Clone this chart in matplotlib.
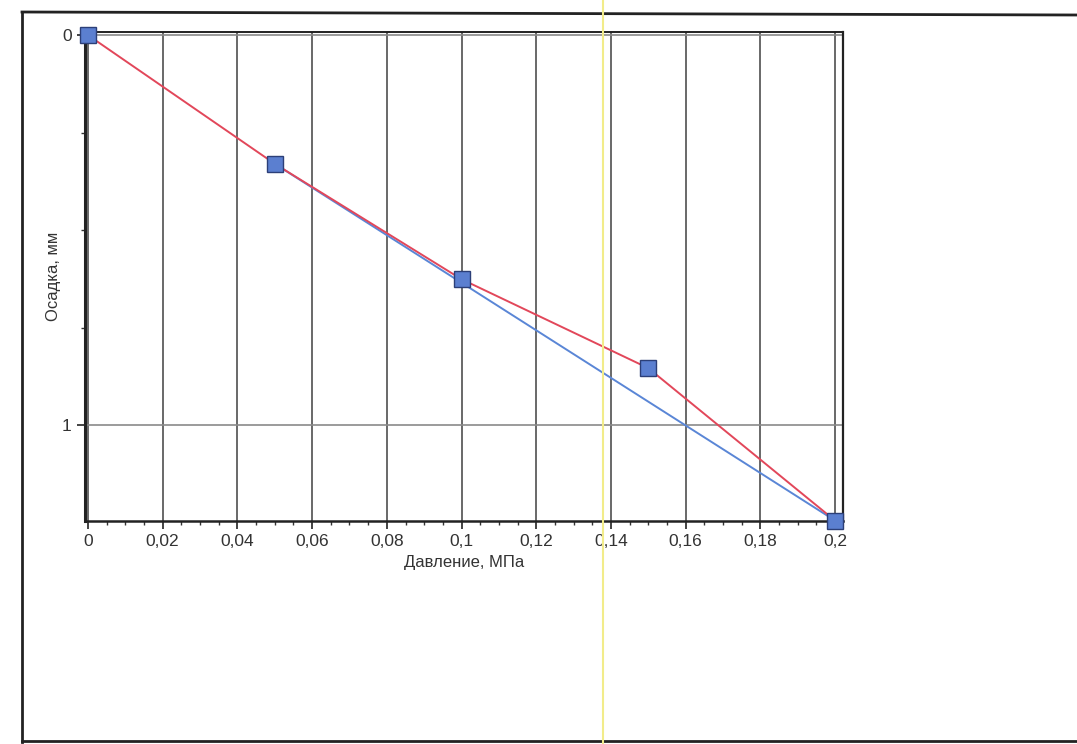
import matplotlib
matplotlib.use("Agg")
import matplotlib.pyplot as plt
from matplotlib.lines import Line2D
from matplotlib.ticker import MultipleLocator, FuncFormatter

plt.rcParams['font.family'] = ['Liberation Sans', 'DejaVu Sans']

# Нагрузка и осадка штампа
pressure = [0.0, 0.05, 0.10, 0.15, 0.20]
settlement = [0.0, 0.33, 0.626, 0.854, 1.245]

# Линейный участок (от 0,05 до 0,2 МПа)
lin_pressure = [0.05, 0.20]
lin_settlement = [0.33, 1.245]

fig = plt.figure(figsize=(10.77, 7.44), dpi=100)
fig.patch.set_facecolor('white')

ax = fig.add_axes([0.0789, 0.2997, 0.7038, 0.6573])
ax.set_xlim(-0.0008, 0.2021)
ax.set_ylim(1.246, -0.008)

# сетка
for xv in [i * 0.02 for i in range(11)]:
    ax.axvline(xv, color='#404040', lw=1.1, zorder=1)
for yv in [0, 1]:
    ax.axhline(yv, color='#8a8a8a', lw=1.2, zorder=1)

ax.plot(lin_pressure, lin_settlement, color='#5a86d6', lw=1.4, zorder=2)
ax.plot(pressure, settlement, color='#e2475a', lw=1.4, zorder=3,
        marker='s', markersize=11, markerfacecolor='#5b7fd0',
        markeredgecolor='#2c3f78', markeredgewidth=1.0, clip_on=False)

ax.xaxis.set_major_locator(MultipleLocator(0.02))
ax.xaxis.set_minor_locator(MultipleLocator(0.005))
ax.yaxis.set_major_locator(MultipleLocator(1))
ax.yaxis.set_minor_locator(MultipleLocator(0.25))

def comma(v, pos):
    s = f"{v:.2f}".rstrip('0').rstrip('.')
    if s in ('-0', ''):
        s = '0'
    return s.replace('.', ',')

ax.xaxis.set_major_formatter(FuncFormatter(comma))
ax.yaxis.set_major_formatter(FuncFormatter(comma))
ax.tick_params(axis='both', which='major', length=6, width=1.2, labelsize=12.5,
               color='#222222', labelcolor='#333333', direction='out')
ax.tick_params(axis='both', which='minor', length=3, width=1.0, color='#333333',
               direction='out')

for side in ['left', 'right', 'top', 'bottom']:
    ax.spines[side].set_color('#222222')
ax.spines['left'].set_linewidth(2.2)
ax.spines['bottom'].set_linewidth(1.8)
ax.spines['right'].set_linewidth(1.6)
ax.spines['top'].set_linewidth(1.4)

ax.set_xlabel('Давление, МПа', fontsize=12, color='#333333', labelpad=4)
ax.set_ylabel('Осадка, мм', fontsize=12, color='#333333', labelpad=1)

# рамка листа
fig.add_artist(Line2D([22 / 1077, 22 / 1077], [1 - 12 / 744, 1 - 742 / 744],
                      transform=fig.transFigure, color='#222222', lw=2.0))
fig.add_artist(Line2D([22 / 1077, 1.0], [1 - 12 / 744, 1 - 15 / 744],
                      transform=fig.transFigure, color='#222222', lw=2.0))
fig.add_artist(Line2D([22 / 1077, 1.0], [1 - 741 / 744, 1 - 741 / 744],
                      transform=fig.transFigure, color='#222222', lw=2.0))
# полоса сканера
fig.add_artist(Line2D([603 / 1077, 603 / 1077], [0, 1],
                      transform=fig.transFigure, color='#f2ec8a', lw=1.5, zorder=10))

fig.savefig('out.png', dpi=100, facecolor='white')
